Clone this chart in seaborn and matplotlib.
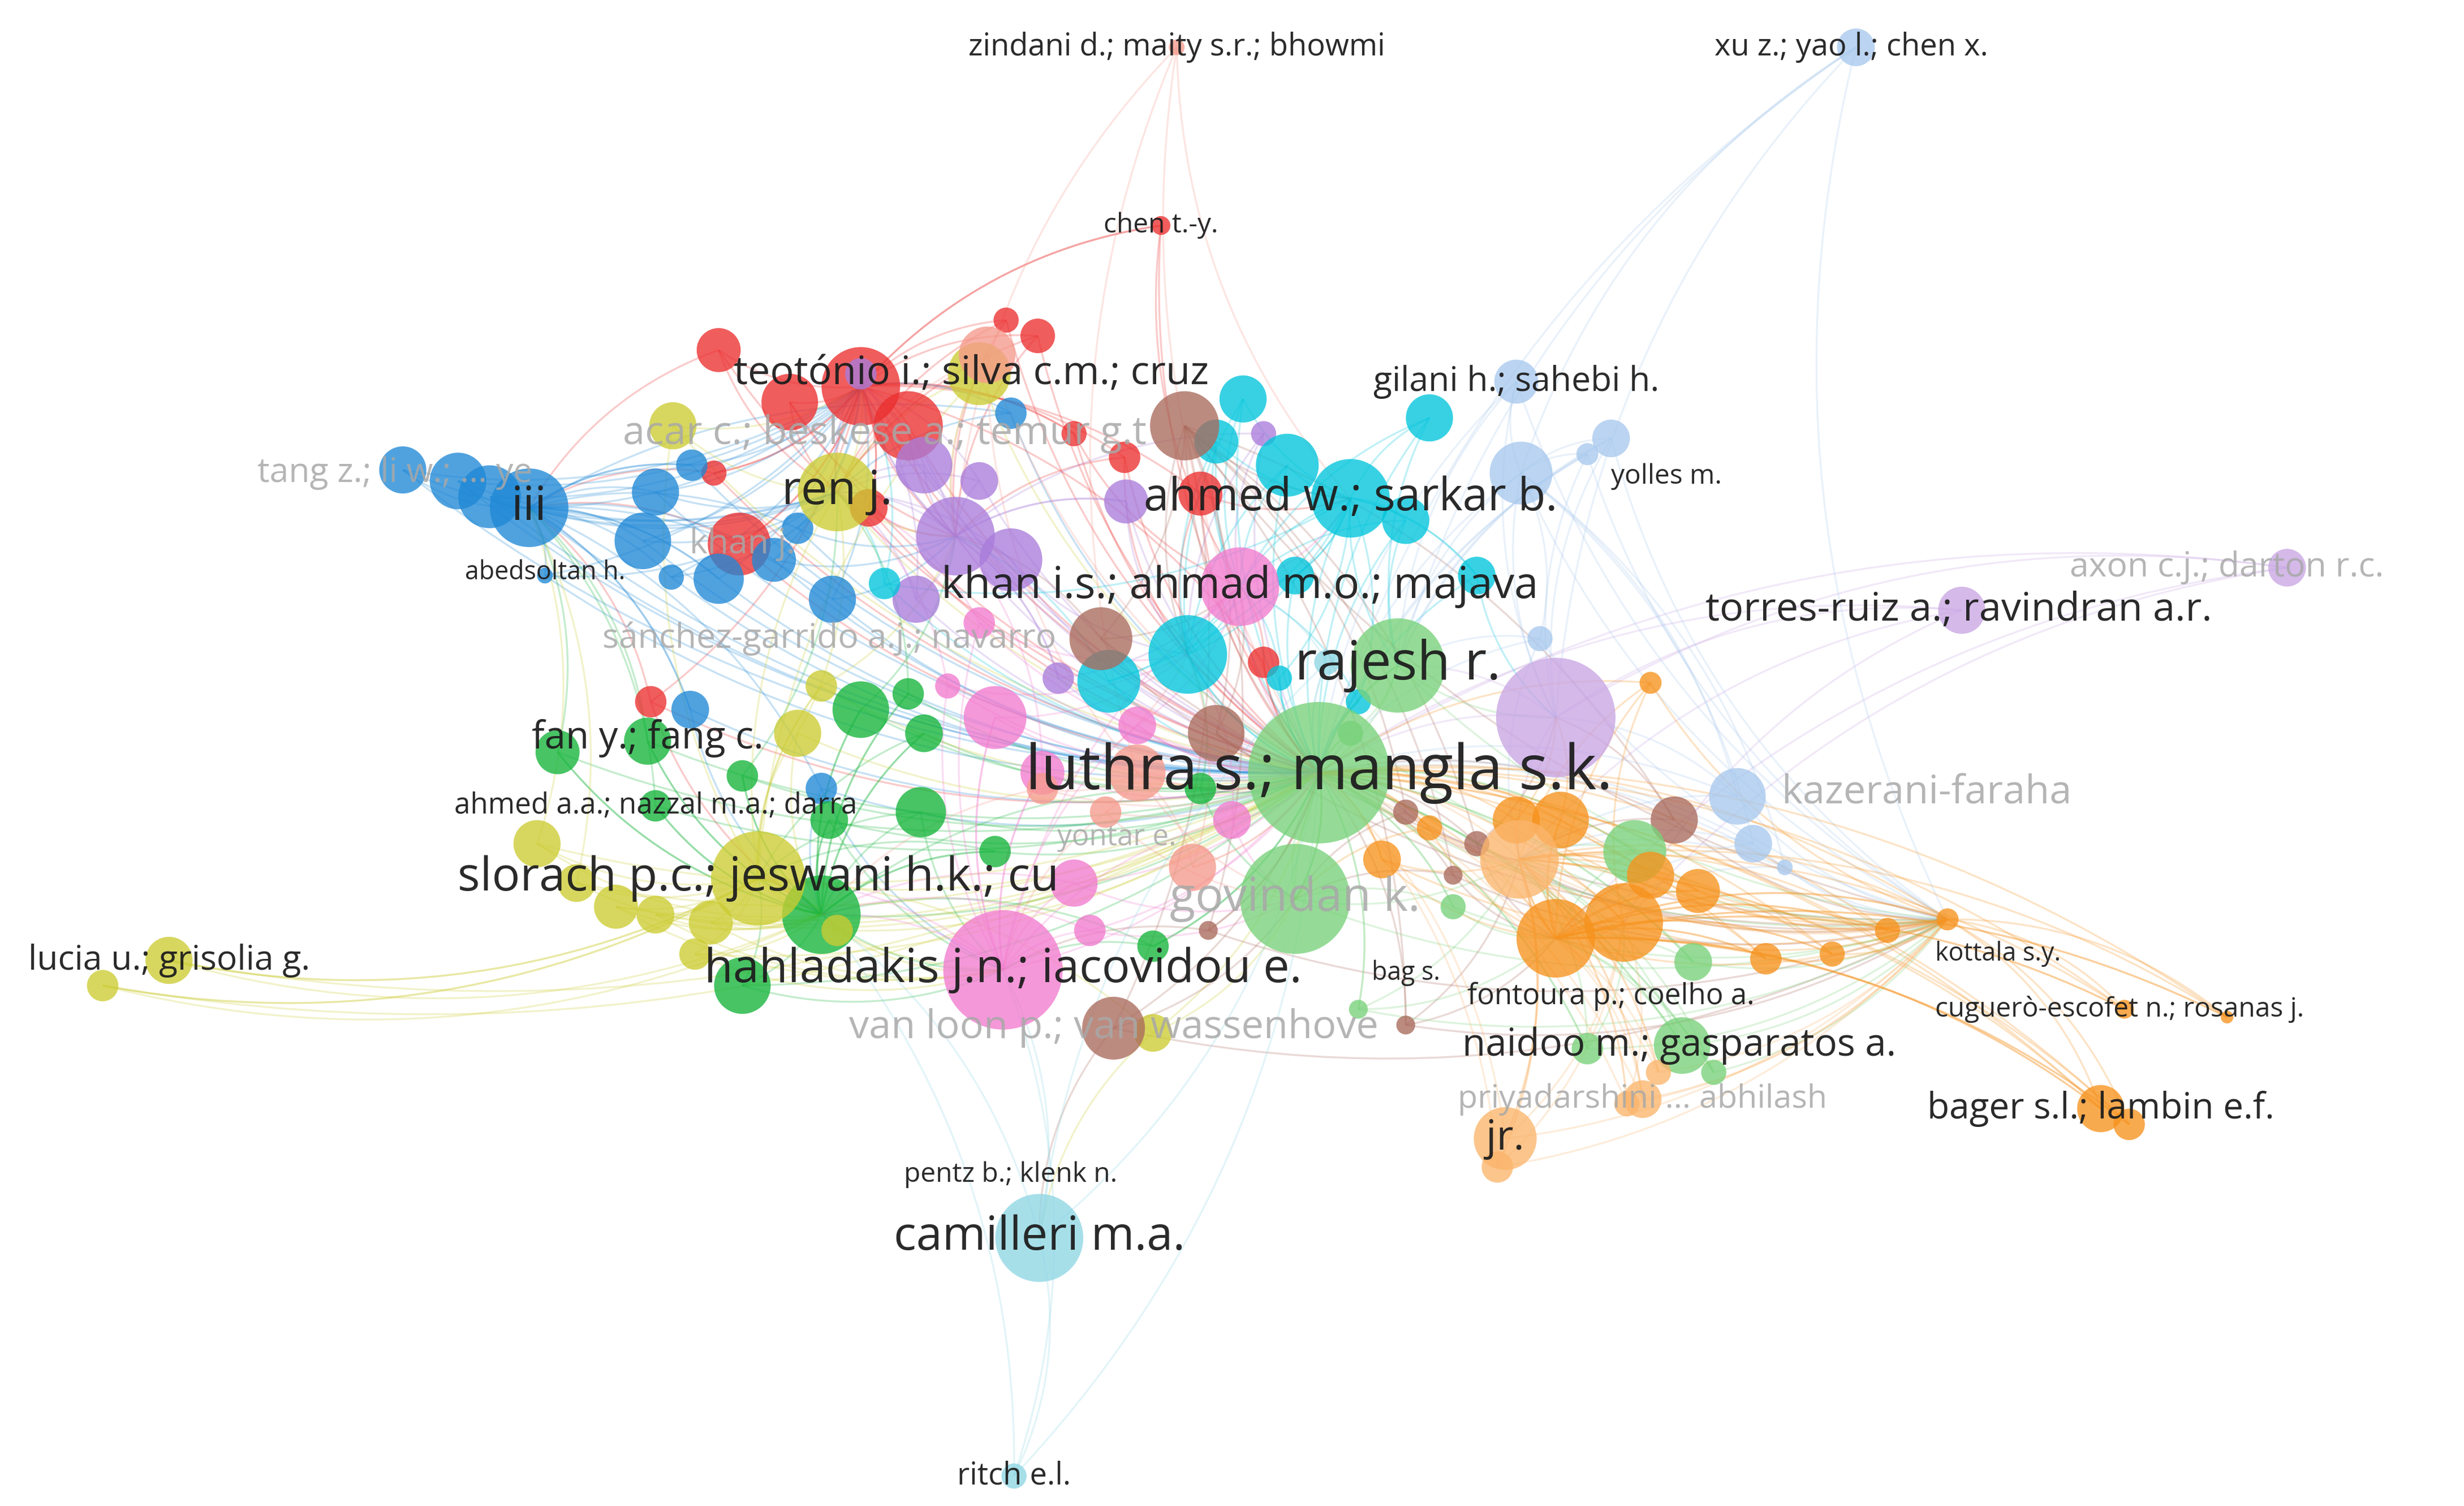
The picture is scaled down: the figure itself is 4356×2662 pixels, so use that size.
import numpy as np
import pandas as pd
import matplotlib
matplotlib.use("Agg")
import matplotlib.pyplot as plt
from matplotlib.collections import LineCollection
import seaborn as sns

cluster_colors = {
    "red": "#ec2f2f", "blue": "#1f88d6", "green": "#14b43a", "yellow": "#cccc33",
    "purple": "#a97cdb", "cyan": "#00c5dc", "pink": "#f27bcf", "brown": "#aa6a5c",
    "lightgreen": "#78d27a", "lightblue": "#a8c9ee", "orange": "#f7921c",
    "lightorange": "#fbb56c", "salmon": "#f69a8c", "lightcyan": "#8ed6e4",
    "lightpurple": "#c9a6e4",
}

# nodes per cluster: (x, y, radius) in layout units
red_nodes = [(455,222,14),(637,203,8),(657,213,11),(545,245,25),(575,270,22),(500,255,18),(468,345,20),(550,322,12),(735,143,6),(712,290,10),(760,313,14),(412,445,10),(452,300,8),(680,275,8),(800,420,10)]
blue_nodes = [(255,298,15),(290,305,18),(310,315,20),(335,322,25),(415,312,15),(407,343,18),(438,295,10),(455,367,16),(490,355,14),(527,380,15),(505,335,10),(425,366,8),(437,450,12),(520,500,10),(640,262,10),(345,365,5)]
green_nodes = [(545,450,18),(585,465,12),(583,515,16),(525,520,12),(520,580,25),(470,625,18),(353,477,14),(410,470,15),(470,492,10),(575,440,10),(630,540,10),(730,600,10),(760,500,10),(415,511,10)]
yellow_nodes = [(620,237,20),(530,312,25),(426,270,15),(340,535,15),(365,560,12),(390,575,14),(415,580,12),(450,585,14),(480,557,30),(505,465,15),(520,435,10),(530,590,10),(107,609,15),(65,625,10),(730,655,12),(440,605,10)]
purple_nodes = [(545,237,10),(605,340,25),(640,355,20),(585,295,18),(620,305,12),(713,318,14),(580,380,15),(670,430,10),(800,275,8)]
lightpurple_nodes = [(985,455,38),(1448,360,12),(1242,387,15)]
cyan_nodes = [(787,253,15),(770,280,14),(815,295,20),(855,316,25),(890,330,15),(905,265,15),(935,365,12),(752,415,25),(702,432,20),(560,370,10),(820,365,12),(860,445,8),(810,430,8)]
pink_nodes = [(785,372,25),(630,455,20),(635,615,38),(680,560,15),(660,490,14),(600,435,8),(720,460,12),(690,590,10),(780,520,12),(620,395,10)]
brown_nodes = [(750,270,22),(770,465,18),(697,405,20),(705,652,20),(1060,520,15),(890,515,8),(935,535,8),(765,590,6),(890,650,6),(920,555,6)]
lightgreen_nodes = [(835,490,45),(885,422,30),(820,570,35),(1035,540,20),(1065,663,18),(1072,610,12),(1005,665,10),(1085,680,8),(860,640,6),(855,465,8),(920,575,8)]
lightblue_nodes = [(1175,30,12),(960,242,14),(963,300,20),(1020,278,12),(1005,288,7),(1100,505,18),(1110,535,12),(975,405,8),(1130,550,5)]
orange_nodes = [(875,545,12),(960,520,15),(988,520,18),(985,595,25),(1028,585,25),(1045,555,15),(1075,565,14),(1118,608,10),(1160,605,8),(1195,590,8),(1233,583,7),(1330,703,15),(1348,713,10),(1345,640,6),(1410,645,4),(1045,433,7),(905,525,8)]
lightorange_nodes = [(962,545,25),(953,722,20),(948,740,10),(1040,697,12),(1030,700,8),(1050,680,8)]
salmon_nodes = [(745,30,5),(720,490,18),(755,550,15),(660,500,10),(700,515,10),(625,225,18)]
lightcyan_nodes = [(658,785,28),(642,936,8),(840,420,8)]

all_clusters = {
    "red": red_nodes, "blue": blue_nodes, "green": green_nodes, "yellow": yellow_nodes,
    "purple": purple_nodes, "lightpurple": lightpurple_nodes, "cyan": cyan_nodes,
    "pink": pink_nodes, "brown": brown_nodes,
    "lightgreen": lightgreen_nodes, "lightblue": lightblue_nodes, "orange": orange_nodes,
    "lightorange": lightorange_nodes, "salmon": salmon_nodes, "lightcyan": lightcyan_nodes,
}

# labels: text, x, y, font px, faded
label_text = ["zindani d.; maity s.r.; bhowmi", "xu z.; yao l.; chen x.", "chen t.-y.",
    "teotónio i.; silva c.m.; cruz", "gilani h.; sahebi h.", "acar c.; beskese a.; temur g.t",
    "tang z.; li w.; ... ye", "yolles m.", "iii", "ren j.", "ahmed w.; sarkar b.", "abedsoltan h.",
    "khan j.", "khan i.s.; ahmad m.o.; majava", "axon c.j.; darton r.c.", "torres-ruiz a.; ravindran a.r.",
    "sánchez-garrido a.j.; navarro", "rajesh r.", "fan y.; fang c.", "luthra s.; mangla s.k.",
    "kazerani-faraha", "ahmed a.a.; nazzal m.a.; darra", "yontar e.", "slorach p.c.; jeswani h.k.; cu",
    "govindan k.", "lucia u.; grisolia g.", "kottala s.y.", "hahladakis j.n.; iacovidou e.", "bag s.",
    "fontoura p.; coelho a.", "cuguerò-escofet n.; rosanas j.", "van loon p.; van wassenhove",
    "naidoo m.; gasparatos a.", "priyadarshini ... abhilash", "bager s.l.; lambin e.f.", "jr.",
    "pentz b.; klenk n.", "camilleri m.a.", "ritch e.l."]
label_x = [745,1172,735,615,960,560,250,1055,335,530,855,345,470,785,1410,1240,525,885,410,835,1220,415,707,480,820,107,1265,635,890,1020,1342,705,1063,1040,1330,953,640,658,642]
label_y = [30,30,143,237,242,275,300,302,322,312,316,363,345,372,360,387,405,422,468,490,503,511,531,557,570,609,605,615,617,632,640,652,663,697,703,722,745,785,936]
label_size = [17,17,15,22,19,22,19,15,26,26,25,14,19,24,19,22,19,30,21,34,22,16,16,26,26,19,14,26,14,16,15,22,21,18,20,23,15,26,17]
label_faded = [0,0,0,0,0,1,1,0,0,0,0,0,1,0,1,0,1,0,0,0,1,0,1,0,1,0,0,0,0,0,0,1,0,1,0,0,0,0,0]

rows = []
for cl, nodes in all_clusters.items():
    for (x, y, r) in nodes:
        rows.append((cl, x, y, r))
df = pd.DataFrame(rows, columns=["cluster", "x", "y", "r"])
df["area"] = 16.0 * df["r"] ** 2

sns.set_theme(style="white")
plt.rcParams['font.family'] = ['Open Sans', 'DejaVu Sans']
fig, ax = plt.subplots(figsize=(43.56, 26.62), dpi=100)
fig.subplots_adjust(0, 0, 1, 1)
ax.set_xlim(0, 1560)
ax.set_ylim(955, 0)
ax.axis("off")

hubs = df.loc[df.groupby("cluster")["r"].idxmax()].reset_index(drop=True)
big = df[df["r"] >= 25].reset_index(drop=True)
main = df.loc[df["r"].idxmax()]
kott = df[(df.x == 1233) & (df.y == 583)].iloc[0]
segs, cols = [], []
def curve(p, q, bend=0.18):
    p = np.array(p, float); q = np.array(q, float)
    d = q - p
    n = np.array([-d[1], d[0]])
    c = (p + q) / 2 + bend * n
    t = np.linspace(0, 1, 30)[:, None]
    return (1 - t) ** 2 * p + 2 * (1 - t) * t * c + t ** 2 * q
for _, nd in df.iterrows():
    col = cluster_colors[nd.cluster]
    h = hubs[hubs.cluster == nd.cluster].iloc[0]
    targets = [(h.x, h.y), (main.x, main.y)]
    dist = np.hypot(big.x - nd.x, big.y - nd.y)
    for j in np.argsort(dist.values)[1:3]:
        targets.append((big.x[j], big.y[j]))
    if nd.cluster in ("orange", "lightorange", "lightgreen", "brown", "lightblue"):
        targets.append((kott.x, kott.y))
    for tg in targets:
        if abs(tg[0] - nd.x) + abs(tg[1] - nd.y) < 1:
            continue
        segs.append(curve((nd.x, nd.y), tg))
        cols.append(matplotlib.colors.to_rgba(col, 0.25))
ax.add_collection(LineCollection(segs, colors=cols, linewidths=2.4, zorder=1))

sns.scatterplot(data=df, x="x", y="y", hue="cluster", palette=cluster_colors,
                size="area", sizes=(df.area.min(), df.area.max()),
                size_norm=(df.area.min(), df.area.max()),
                alpha=0.78, linewidth=0, legend=False, ax=ax, zorder=2)

for t, x, y, s, f in zip(label_text, label_x, label_y, label_size, label_faded):
    ax.text(x, y, t, fontsize=s * 2.3, ha="center", va="center",
            color="#a8a8a8" if f else "#1e1e1e", alpha=0.85 if f else 0.95, zorder=3)

fig.savefig("out.png", dpi=100, facecolor="white")
